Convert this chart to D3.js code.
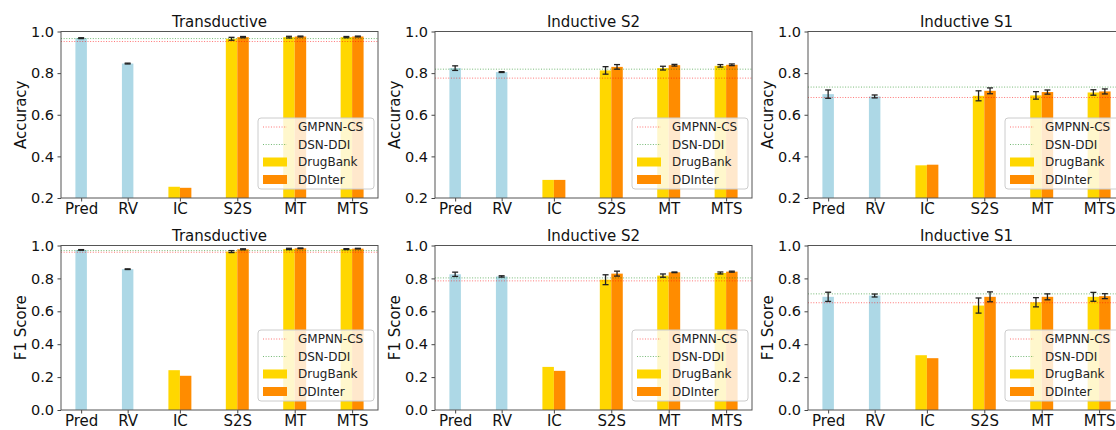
<!DOCTYPE html>
<html>
<head>
<meta charset="utf-8">
<script src="https://cdn.jsdelivr.net/npm/d3@7/dist/d3.min.js"></script>
<style>
  body { margin: 0; background: #fff; }
  svg { display: block; font-family: "DejaVu Sans", sans-serif; }
</style>
</head>
<body>
<svg width="1116" height="430"></svg>
<script>
// Categorías del eje x
const categories = ["Pred", "RV", "IC", "S2S", "MT", "MTS"];
const pairedCats = ["IC", "S2S", "MT", "MTS"];
const seriesNames = ["DrugBank", "DDInter"];
const baselineNames = ["GMPNN-CS", "DSN-DDI"];

// Accuracy - Transductive
const accTransSingle = [0.968, 0.846];
const accTransSingleErr = [0.002, 0.002];
const accTransDrugBank = [0.254, 0.965, 0.973, 0.973];
const accTransDrugBankErr = [0, 0.007, 0.004, 0.003];
const accTransDDInter = [0.249, 0.973, 0.976, 0.976];
const accTransDDInterErr = [0, 0.003, 0.002, 0.002];
const accTransBaselines = [0.952, 0.966];

// Accuracy - Inductive S2
const accS2Single = [0.824, 0.805];
const accS2SingleErr = [0.011, 0.002];
const accS2DrugBank = [0.287, 0.813, 0.824, 0.835];
const accS2DrugBankErr = [0, 0.018, 0.009, 0.006];
const accS2DDInter = [0.287, 0.830, 0.838, 0.840];
const accS2DDInterErr = [0, 0.011, 0.004, 0.004];
const accS2Baselines = [0.776, 0.819];

// Accuracy - Inductive S1
const accS1Single = [0.699, 0.688];
const accS1SingleErr = [0.020, 0.007];
const accS1DrugBank = [0.357, 0.691, 0.693, 0.707];
const accS1DrugBankErr = [0, 0.024, 0.018, 0.013];
const accS1DDInter = [0.360, 0.715, 0.709, 0.712];
const accS1DDInterErr = [0, 0.014, 0.010, 0.012];
const accS1Baselines = [0.683, 0.733];

// F1 - Transductive
const f1TransSingle = [0.973, 0.856];
const f1TransSingleErr = [0.002, 0.002];
const f1TransDrugBank = [0.242, 0.963, 0.979, 0.978];
const f1TransDrugBankErr = [0, 0.006, 0.004, 0.003];
const f1TransDDInter = [0.208, 0.977, 0.983, 0.981];
const f1TransDDInterErr = [0, 0.003, 0.002, 0.002];
const f1TransBaselines = [0.959, 0.969];

// F1 - Inductive S2
const f1S2Single = [0.825, 0.812];
const f1S2SingleErr = [0.013, 0.004];
const f1S2DrugBank = [0.262, 0.792, 0.817, 0.833];
const f1S2DrugBankErr = [0, 0.030, 0.010, 0.006];
const f1S2DDInter = [0.238, 0.829, 0.837, 0.841];
const f1S2DDInterErr = [0, 0.015, 0.002, 0.003];
const f1S2Baselines = [0.785, 0.803];

// F1 - Inductive S1
const f1S1Single = [0.688, 0.696];
const f1S1SingleErr = [0.028, 0.009];
const f1S1DrugBank = [0.333, 0.635, 0.655, 0.688];
const f1S1DrugBankErr = [0, 0.046, 0.028, 0.027];
const f1S1DDInter = [0.315, 0.688, 0.688, 0.692];
const f1S1DDInterErr = [0, 0.030, 0.018, 0.015];
const f1S1Baselines = [0.652, 0.706];

const accTicks = [0.2, 0.4, 0.6, 0.8, 1.0];
const f1Ticks = [0.0, 0.2, 0.4, 0.6, 0.8, 1.0];

// Paneles construidos a partir de los arreglos
const panels = [
  {title: "Transductive", ylabel: "Accuracy", col: 0, row: 0, ticks: accTicks,
   single: accTransSingle, singleErr: accTransSingleErr, db: accTransDrugBank, dbErr: accTransDrugBankErr,
   di: accTransDDInter, diErr: accTransDDInterErr, base: accTransBaselines},
  {title: "Inductive S2", ylabel: "Accuracy", col: 1, row: 0, ticks: accTicks,
   single: accS2Single, singleErr: accS2SingleErr, db: accS2DrugBank, dbErr: accS2DrugBankErr,
   di: accS2DDInter, diErr: accS2DDInterErr, base: accS2Baselines},
  {title: "Inductive S1", ylabel: "Accuracy", col: 2, row: 0, ticks: accTicks,
   single: accS1Single, singleErr: accS1SingleErr, db: accS1DrugBank, dbErr: accS1DrugBankErr,
   di: accS1DDInter, diErr: accS1DDInterErr, base: accS1Baselines},
  {title: "Transductive", ylabel: "F1 Score", col: 0, row: 1, ticks: f1Ticks,
   single: f1TransSingle, singleErr: f1TransSingleErr, db: f1TransDrugBank, dbErr: f1TransDrugBankErr,
   di: f1TransDDInter, diErr: f1TransDDInterErr, base: f1TransBaselines},
  {title: "Inductive S2", ylabel: "F1 Score", col: 1, row: 1, ticks: f1Ticks,
   single: f1S2Single, singleErr: f1S2SingleErr, db: f1S2DrugBank, dbErr: f1S2DrugBankErr,
   di: f1S2DDInter, diErr: f1S2DDInterErr, base: f1S2Baselines},
  {title: "Inductive S1", ylabel: "F1 Score", col: 2, row: 1, ticks: f1Ticks,
   single: f1S1Single, singleErr: f1S1SingleErr, db: f1S1DrugBank, dbErr: f1S1DrugBankErr,
   di: f1S1DDInter, diErr: f1S1DDInterErr, base: f1S1Baselines}
];

// Disposición
const svg = d3.select("svg");
const colLeft = [61, 435, 808];
const rowTop = [31.5, 245.5];
const rowBottom = [198, 410];
const axW = 317;
const tickPos = [0.28, 1.09, 2, 3, 4, 5];
const barW = 0.2;
const singleColor = "#add8e6";
const seriesColors = ["#ffd700", "#ff8c00"];
const baseColors = ["red", "green"];

const x = d3.scaleLinear().domain([-0.071, 5.451]).range([0, axW]);

panels.forEach(p => {
  const left = colLeft[p.col], top = rowTop[p.row], h = rowBottom[p.row] - top;
  const y = d3.scaleLinear().domain([p.ticks[0], 1.0]).range([h, 0]);
  const g = svg.append("g").attr("transform", `translate(${left},${top})`);

  // Barras simples (Pred, RV)
  g.selectAll(".single").data(p.single).enter().append("rect")
    .attr("x", (d, i) => x(tickPos[i] - barW / 2))
    .attr("width", x(barW) - x(0))
    .attr("y", d => y(d))
    .attr("height", d => h - y(d))
    .attr("fill", singleColor);

  // Barras agrupadas
  [p.db, p.di].forEach((vals, s) => {
    g.selectAll(".s" + s).data(vals).enter().append("rect")
      .attr("x", (d, i) => x(tickPos[i + 2] - barW + s * barW))
      .attr("width", x(barW) - x(0))
      .attr("y", d => y(d))
      .attr("height", d => h - y(d))
      .attr("fill", seriesColors[s]);
  });

  // Líneas de referencia
  p.base.forEach((v, k) => {
    g.append("line")
      .attr("x1", 0).attr("x2", axW)
      .attr("y1", y(v)).attr("y2", y(v))
      .attr("stroke", baseColors[k]).attr("stroke-opacity", 0.55)
      .attr("stroke-width", 1).attr("stroke-dasharray", "1,1.65");
  });

  // Barras de error
  const errs = [];
  p.single.forEach((v, i) => errs.push({cx: tickPos[i], v, e: p.singleErr[i]}));
  p.db.forEach((v, i) => errs.push({cx: tickPos[i + 2] - barW / 2, v, e: p.dbErr[i]}));
  p.di.forEach((v, i) => errs.push({cx: tickPos[i + 2] + barW / 2, v, e: p.diErr[i]}));
  const eg = g.append("g").attr("stroke", "#222").attr("stroke-width", 1.3);
  errs.filter(d => d.e > 0).forEach(d => {
    const cx = x(d.cx);
    eg.append("line").attr("x1", cx).attr("x2", cx).attr("y1", y(d.v - d.e)).attr("y2", y(d.v + d.e));
    eg.append("line").attr("x1", cx - 3).attr("x2", cx + 3).attr("y1", y(d.v - d.e)).attr("y2", y(d.v - d.e));
    eg.append("line").attr("x1", cx - 3).attr("x2", cx + 3).attr("y1", y(d.v + d.e)).attr("y2", y(d.v + d.e));
  });

  // Leyenda
  const lg = g.append("g").attr("transform", `translate(${axW - 120},${h - 80})`);
  lg.append("rect").attr("width", 116).attr("height", 71).attr("rx", 3)
    .attr("fill", "white").attr("fill-opacity", 0.8)
    .attr("stroke", "#ccc").attr("stroke-width", 1);
  const items = [
    {name: baselineNames[0], type: "line", color: baseColors[0]},
    {name: baselineNames[1], type: "line", color: baseColors[1]},
    {name: seriesNames[0], type: "patch", color: seriesColors[0]},
    {name: seriesNames[1], type: "patch", color: seriesColors[1]}
  ];
  items.forEach((it, i) => {
    const cy = 9 + i * 17.5;
    if (it.type === "line") {
      lg.append("line").attr("x1", 5).attr("x2", 29).attr("y1", cy).attr("y2", cy)
        .attr("stroke", it.color).attr("stroke-opacity", 0.55)
        .attr("stroke-width", 1).attr("stroke-dasharray", "1,1.65");
    } else {
      lg.append("rect").attr("x", 5).attr("y", cy - 4.5).attr("width", 24).attr("height", 9)
        .attr("fill", it.color);
    }
    lg.append("text").attr("x", 40).attr("y", cy + 4.3)
      .attr("font-size", 12).attr("fill", "#222").text(it.name);
  });

  // Ejes
  const yAxis = g.append("g").call(d3.axisLeft(y).tickValues(p.ticks)
    .tickFormat(d3.format(".1f")).tickSize(3.5).tickPadding(3.5));
  yAxis.select(".domain").remove();
  yAxis.selectAll("text").attr("font-size", 14.5).attr("fill", "#111").attr("font-family", "DejaVu Sans");
  yAxis.selectAll("line").attr("stroke", "#444");

  const xAxis = g.append("g").attr("transform", `translate(0,${h})`)
    .call(d3.axisBottom(x).tickValues(tickPos).tickFormat((d, i) => categories[i])
      .tickSize(3.5).tickPadding(2));
  xAxis.select(".domain").remove();
  xAxis.selectAll("text").attr("font-size", 15).attr("fill", "#111").attr("font-family", "DejaVu Sans");
  xAxis.selectAll("line").attr("stroke", "#444");

  // Marco
  g.append("rect").attr("width", axW).attr("height", h)
    .attr("fill", "none").attr("stroke", "#555").attr("stroke-width", 1);

  // Título y etiqueta del eje y
  g.append("text").attr("x", axW / 2).attr("y", -5).attr("text-anchor", "middle")
    .attr("font-size", 15).attr("fill", "#111").text(p.title);
  g.append("text").attr("transform", `translate(-35,${h / 2}) rotate(-90)`)
    .attr("text-anchor", "middle").attr("font-size", 15).attr("fill", "#111").text(p.ylabel);
});
</script>
</body>
</html>
